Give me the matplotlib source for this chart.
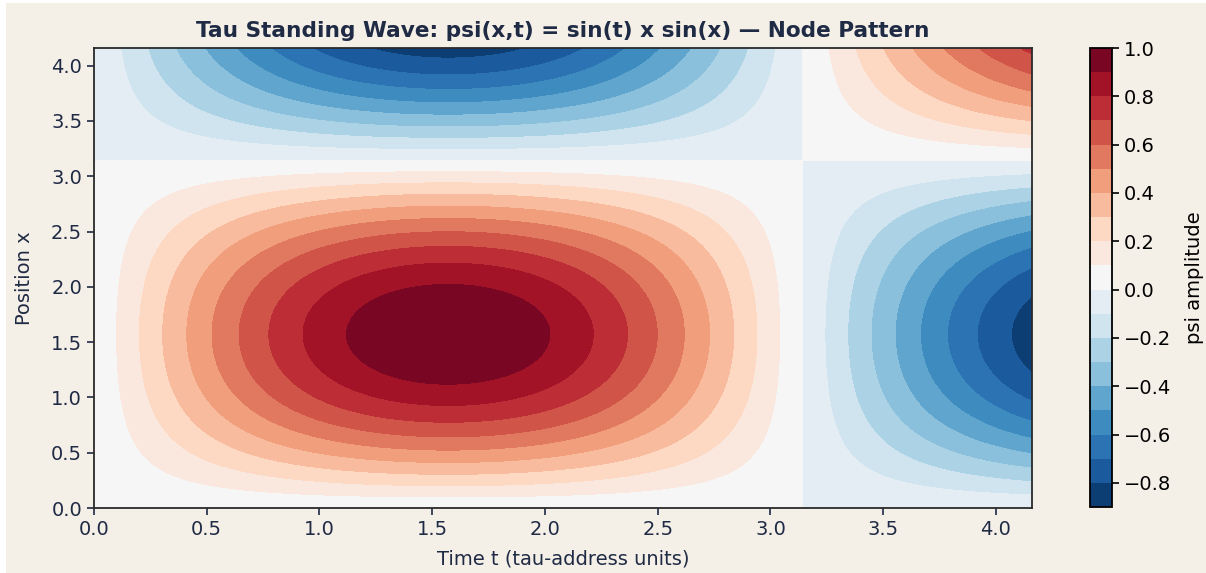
import numpy as np
import matplotlib
matplotlib.use("Agg")
import matplotlib.pyplot as plt
from matplotlib.patches import Rectangle

# grid axes (tau-address units) and the field from the title formula
t_vals = np.linspace(0.0, 4.16, 300)
x_vals = np.linspace(0.0, 4.16, 300)
T, X = np.meshgrid(t_vals, x_vals)
psi = np.sin(T) * np.sin(X)

levels = np.round(np.arange(-0.9, 1.0001, 0.1), 2)
cbar_ticks = [-0.8, -0.6, -0.4, -0.2, 0.0, 0.2, 0.4, 0.6, 0.8, 1.0]

bg = "#f4efe7"
navy = "#1f2a44"
fs = 14

fig = plt.figure(figsize=(12.06, 5.73), dpi=100, facecolor=bg)
# thin white strip on left/top edges as in the original export
fig.patches.append(Rectangle((0, 0), 6 / 1206, 1, transform=fig.transFigure,
                             facecolor="white", edgecolor="none", zorder=-1))
fig.patches.append(Rectangle((0, 1 - 3 / 573), 1, 3 / 573, transform=fig.transFigure,
                             facecolor="white", edgecolor="none", zorder=-1))

ax = fig.add_axes([94 / 1206, 1 - 508 / 573, 938 / 1206, 460 / 573])
cax = fig.add_axes([1090 / 1206, 1 - 507 / 573, 22 / 1206, 459 / 573])

cf = ax.contourf(T, X, psi, levels=levels, cmap="RdBu_r")
ax.set_xlim(0, 4.16)
ax.set_ylim(0, 4.16)
ax.set_xticks(np.arange(0, 4.01, 0.5))
ax.set_yticks(np.arange(0, 4.01, 0.5))
ax.tick_params(colors=navy, labelsize=fs, width=1.2, length=5)
for s in ax.spines.values():
    s.set_color("#2a2a2a")
    s.set_linewidth(1.3)
ax.set_xlabel("Time t (tau-address units)", fontsize=fs, color=navy, labelpad=8)
ax.set_ylabel("Position x", fontsize=fs, color=navy, labelpad=12)
ax.set_title("Tau Standing Wave: psi(x,t) = sin(t) x sin(x) \u2014 Node Pattern",
             fontsize=15.6, fontweight="bold", color=navy, pad=8)

cb = fig.colorbar(cf, cax=cax, ticks=cbar_ticks)
cb.ax.tick_params(labelsize=fs, width=1.2, length=5)
cb.outline.set_linewidth(1.3)
cb.set_label("psi amplitude", fontsize=fs, labelpad=10)

fig.savefig("out.png", dpi=100, facecolor=bg)
